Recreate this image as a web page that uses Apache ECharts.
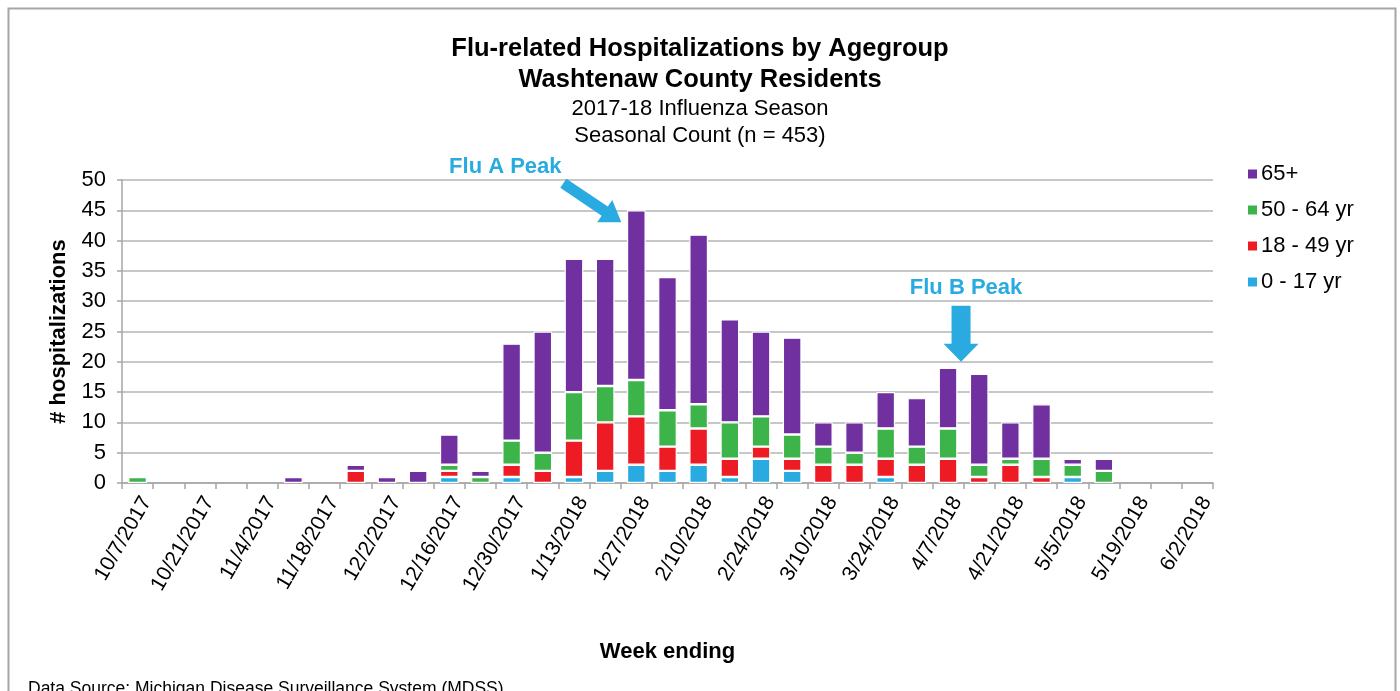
<!DOCTYPE html>
<html>
<head>
<meta charset="utf-8">
<script src="https://cdn.jsdelivr.net/npm/echarts@6/dist/echarts.min.js"></script>
<style>
html,body{margin:0;padding:0;background:#fff;}
#chart{width:1400px;height:691px;}
</style>
</head>
<body>
<div id="chart"></div>
<script>
// ---- data ----
const weeks = ['10/7/2017','10/14/2017','10/21/2017','10/28/2017','11/4/2017','11/11/2017','11/18/2017','11/25/2017','12/2/2017','12/9/2017','12/16/2017','12/23/2017','12/30/2017','1/6/2018','1/13/2018','1/20/2018','1/27/2018','2/3/2018','2/10/2018','2/17/2018','2/24/2018','3/3/2018','3/10/2018','3/17/2018','3/24/2018','3/31/2018','4/7/2018','4/14/2018','4/21/2018','4/28/2018','5/5/2018','5/12/2018','5/19/2018','5/26/2018','6/2/2018'];
const age0to17  = [0,0,0,0,0,0,0,0,0,0,1,0,1,0,1,2,3,2,3,1,4,2,0,0,1,0,0,0,0,0,1,0,0,0,0];
const age18to49 = [0,0,0,0,0,0,0,2,0,0,1,0,2,2,6,8,8,4,6,3,2,2,3,3,3,3,4,1,3,1,0,0,0,0,0];
const age50to64 = [1,0,0,0,0,0,0,0,0,0,1,1,4,3,8,6,6,6,4,6,5,4,3,2,5,3,5,2,1,3,2,2,0,0,0];
const age65plus = [0,0,0,0,0,1,0,1,1,2,5,1,16,20,22,21,28,22,28,17,14,16,4,5,6,8,10,15,6,9,1,2,0,0,0];
const seriesNames = ['0 - 17 yr','18 - 49 yr','50 - 64 yr','65+'];
const legendOrder = ['65+','50 - 64 yr','18 - 49 yr','0 - 17 yr'];
const yMin = 0, yMax = 50, yStep = 5;
const fluAPeakIndex = 16, fluBPeakIndex = 26;

const colors = {'0 - 17 yr':'#29ABE2','18 - 49 yr':'#ED1C24','50 - 64 yr':'#3CB44A','65+':'#7030A0'};
const annotColor = '#29ABE2';
const sansFont = '"Liberation Sans", Arial, sans-serif';

const chart = echarts.init(document.getElementById('chart'), null, {renderer:'canvas'});
const dataSets = [age0to17, age18to49, age50to64, age65plus];

const series = seriesNames.map((name, i) => ({
  name: name,
  type: 'bar',
  stack: 'total',
  barCategoryGap: '40%',
  itemStyle: {color: colors[name], borderColor: '#ffffff', borderWidth: 1.2},
  emphasis: {disabled: true},
  data: dataSets[i].map(v => v === 0 ? '-' : v)
}));

const titleBold = {fontFamily: sansFont, fontWeight: 'bold', fontSize: 25.5, color: '#000'};
const titleNormal = {fontFamily: sansFont, fontWeight: 'normal', fontSize: 22, color: '#000'};

const option = {
  animation: false,
  backgroundColor: '#ffffff',
  title: [
    {text: 'Flu-related Hospitalizations by Agegroup', left: 'center', top: 36, padding: 0, textStyle: titleBold},
    {text: 'Washtenaw County Residents', left: 'center', top: 67, padding: 0, textStyle: titleBold},
    {text: '2017-18 Influenza Season', left: 'center', top: 98, padding: 0, textStyle: titleNormal},
    {text: 'Seasonal Count (n = 453)', left: 'center', top: 125, padding: 0, textStyle: titleNormal}
  ],
  legend: {
    data: legendOrder,
    orient: 'vertical',
    left: 1241,
    top: 158,
    icon: 'rect',
    itemWidth: 11,
    itemHeight: 11,
    itemGap: 14,
    selectedMode: false,
    textStyle: {fontFamily: sansFont, fontSize: 22, color: '#000', padding: [0,0,0,-2]}
  },
  grid: {left: 122, right: 187, top: 180, bottom: 208, containLabel: false},
  xAxis: {
    type: 'category',
    data: weeks,
    boundaryGap: true,
    name: 'Week ending',
    nameLocation: 'middle',
    nameGap: 158,
    nameTextStyle: {fontFamily: sansFont, fontWeight: 'bold', fontSize: 22, color: '#000'},
    axisLine: {lineStyle: {color: '#a6a6a6', width: 1.5}},
    axisTick: {show: true, interval: 0, length: 6, lineStyle: {color: '#a6a6a6', width: 1.5}},
    axisLabel: {interval: 1, rotate: 60, margin: 10, verticalAlign: 'top', fontFamily: sansFont, fontSize: 21, color: '#000'}
  },
  yAxis: {
    type: 'value',
    min: yMin, max: yMax, interval: yStep,
    name: '# hospitalizations',
    nameLocation: 'middle',
    nameGap: 52,
    nameRotate: 90,
    nameTextStyle: {fontFamily: sansFont, fontWeight: 'bold', fontSize: 22, color: '#000'},
    axisLine: {show: true, lineStyle: {color: '#a6a6a6', width: 1.5}},
    axisTick: {show: true, length: 5, lineStyle: {color: '#a6a6a6', width: 1.5}},
    axisLabel: {margin: 16, fontFamily: sansFont, fontSize: 22, color: '#000'},
    splitLine: {show: true, lineStyle: {color: '#b4b4b4', width: 1.5}}
  },
  series: series
};
chart.setOption(option);

function arrowPoints(tail, tip, sw, hw, hl) {
  const dx = tip[0]-tail[0], dy = tip[1]-tail[1];
  const len = Math.sqrt(dx*dx+dy*dy);
  const ux = dx/len, uy = dy/len;
  const nx = -uy, ny = ux;
  const bx = tip[0]-ux*hl, by = tip[1]-uy*hl;
  return [
    [tail[0]+nx*sw/2, tail[1]+ny*sw/2],
    [bx+nx*sw/2, by+ny*sw/2],
    [bx+nx*hw/2, by+ny*hw/2],
    [tip[0], tip[1]],
    [bx-nx*hw/2, by-ny*hw/2],
    [bx-nx*sw/2, by-ny*sw/2],
    [tail[0]-nx*sw/2, tail[1]-ny*sw/2]
  ];
}
function total(i){ return age0to17[i]+age18to49[i]+age50to64[i]+age65plus[i]; }

const a = chart.convertToPixel({gridIndex:0}, [fluAPeakIndex, total(fluAPeakIndex)]);
const b = chart.convertToPixel({gridIndex:0}, [fluBPeakIndex, total(fluBPeakIndex)]);

chart.setOption({
  graphic: [
    {type:'rect', silent:true, shape:{x:8.5, y:8.5, width:1387, height:700}, style:{fill:'none', stroke:'#a6a6a6', lineWidth:2}},
    {type:'text', silent:true, left: 28, top: 680, style:{text:'Data Source: Michigan Disease Surveillance System (MDSS)', font:'17.5px ' + sansFont, fill:'#000'}},
    {type:'text', silent:true, x: a[0]-131, y: a[1]-43, style:{text:'Flu A Peak', font:'bold 22px ' + sansFont, fill: annotColor, align:'center', verticalAlign:'middle'}},
    {type:'polygon', silent:true, shape:{points: arrowPoints([a[0]-73, a[1]-27], [a[0]-15, a[1]+12], 11, 27, 20)}, style:{fill: annotColor}},
    {type:'text', silent:true, x: b[0]+18, y: b[1]-80, style:{text:'Flu B Peak', font:'bold 22px ' + sansFont, fill: annotColor, align:'center', verticalAlign:'middle'}},
    {type:'polygon', silent:true, shape:{points: arrowPoints([b[0]+13, b[1]-62], [b[0]+13, b[1]-6], 19, 35, 18)}, style:{fill: annotColor}}
  ]
});
</script>
</body>
</html>
